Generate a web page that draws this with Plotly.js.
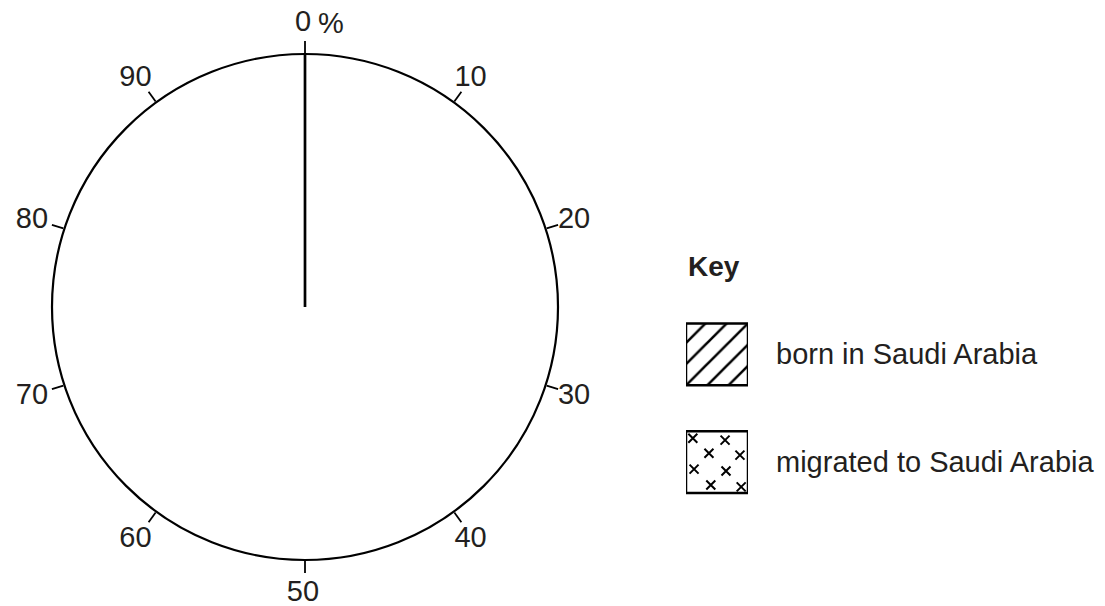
<!DOCTYPE html>
<html>
<head>
<meta charset="utf-8">
<script src="https://cdn.plot.ly/plotly-3.0.1.min.js"></script>
<style>
  html, body { margin: 0; padding: 0; background: #ffffff; }
  #chart { width: 1105px; height: 606px; }
</style>
</head>
<body>
<div id="chart"></div>
<script>
// ---- data ----
var percentTicks = [0, 10, 20, 30, 40, 50, 60, 70, 80, 90];
var tickLabels = ['0', '10', '20', '30', '40', '50', '60', '70', '80', '90'];
var startLinePercent = [0, 0];
var startLineRadius = [0, 1];
var keyTitle = 'Key';
var keyLabels = ['born in Saudi Arabia', 'migrated to Saudi Arabia'];
var keyPatterns = ['/', ''];
var keyRows = [1, 0];
var keyValues = [1, 1];
// positions of the small crosses inside the "migrated" key box (box units)
var crossX = [0.11, 0.63, 0.37, 0.87, 0.13, 0.645, 0.40, 0.89];
var crossY = [0.222, 0.204, 0.083, 0.065, -0.065, -0.083, -0.213, -0.23];

var FONT = 'Liberation Sans, Arial, Helvetica, sans-serif';
var TXT = '#231f20';

var traces = [
  {
    type: 'scatterpolar',
    subplot: 'polar',
    r: startLineRadius,
    theta: startLinePercent.map(function (p) { return p * 3.6; }),
    mode: 'lines',
    line: { color: '#000000', width: 2.7 },
    hoverinfo: 'skip',
    cliponaxis: false
  },
  {
    type: 'scatterpolar',
    subplot: 'polar2',
    r: percentTicks.map(function () { return 1; }),
    theta: percentTicks.map(function (p) { return p * 3.6; }),
    mode: 'text',
    text: tickLabels,
    textposition: 'middle center',
    textfont: { family: FONT, size: 29, color: TXT },
    hoverinfo: 'skip',
    cliponaxis: false
  },
  {
    type: 'bar',
    orientation: 'h',
    y: keyRows,
    x: keyValues,
    base: 0,
    width: 0.575,
    cliponaxis: false,
    marker: {
      color: '#ffffff',
      line: { color: '#000000', width: 2.5 },
      pattern: {
        shape: keyPatterns,
        size: 15,
        solidity: 0.17,
        fgcolor: '#000000',
        fgopacity: 1,
        bgcolor: '#ffffff',
        fillmode: 'overlay'
      }
    },
    hoverinfo: 'skip'
  },
  {
    type: 'scatter',
    x: crossX,
    y: crossY,
    mode: 'markers',
    cliponaxis: false,
    marker: { symbol: 'x-thin', size: 9, color: '#000000', line: { color: '#000000', width: 2 } },
    hoverinfo: 'skip'
  }
];

var angularBase = {
  rotation: 90,
  direction: 'clockwise',
  thetaunit: 'degrees'
};

var layout = {
  width: 1105,
  height: 606,
  margin: { l: 0, r: 0, t: 0, b: 0, pad: 0 },
  paper_bgcolor: '#ffffff',
  plot_bgcolor: 'rgba(0,0,0,0)',
  showlegend: false,
  polar: {
    domain: { x: [52 / 1105, 558 / 1105], y: [46 / 606, 552 / 606] },
    bgcolor: '#ffffff',
    radialaxis: { visible: false, range: [0, 1], showgrid: false },
    angularaxis: Object.assign({}, angularBase, {
      tickmode: 'array',
      tickvals: percentTicks.map(function (p) { return p * 3.6; }),
      showticklabels: false,
      ticks: 'outside',
      ticklen: 12,
      tickwidth: 1.8,
      tickcolor: '#000000',
      showline: true,
      linecolor: '#000000',
      linewidth: 2.2,
      showgrid: false
    })
  },
  polar2: {
    domain: { x: [16 / 1105, 590 / 1105], y: [12 / 606, 582 / 606] },
    bgcolor: 'rgba(0,0,0,0)',
    radialaxis: { visible: false, range: [0, 1], showgrid: false },
    angularaxis: Object.assign({}, angularBase, {
      visible: false, showgrid: false, showline: false, ticks: '', showticklabels: false
    })
  },
  xaxis: {
    domain: [686 / 1105, 748 / 1105],
    range: [0, 1],
    visible: false,
    fixedrange: true
  },
  yaxis: {
    domain: [90 / 606, 305.5 / 606],
    range: [-0.5, 1.5],
    visible: false,
    fixedrange: true
  },
  annotations: [
    {
      text: '%', xref: 'paper', yref: 'paper', x: 316 / 1105, y: (606 - 23) / 606,
      xanchor: 'left', yanchor: 'middle', showarrow: false,
      font: { family: FONT, size: 29, color: TXT }
    },
    {
      text: '<b>' + keyTitle + '</b>', xref: 'paper', yref: 'paper', x: 686 / 1105, y: (606 - 266) / 606,
      xanchor: 'left', yanchor: 'middle', showarrow: false,
      font: { family: FONT, size: 28, color: TXT }
    },
    {
      text: keyLabels[0], xref: 'paper', yref: 'y', x: 774 / 1105, y: keyRows[0],
      xanchor: 'left', yanchor: 'middle', showarrow: false,
      font: { family: FONT, size: 29, color: TXT }
    },
    {
      text: keyLabels[1], xref: 'paper', yref: 'y', x: 774 / 1105, y: keyRows[1],
      xanchor: 'left', yanchor: 'middle', showarrow: false,
      font: { family: FONT, size: 29, color: TXT }
    }
  ]
};

Plotly.newPlot('chart', traces, layout, { staticPlot: true, displayModeBar: false });
</script>
</body>
</html>
